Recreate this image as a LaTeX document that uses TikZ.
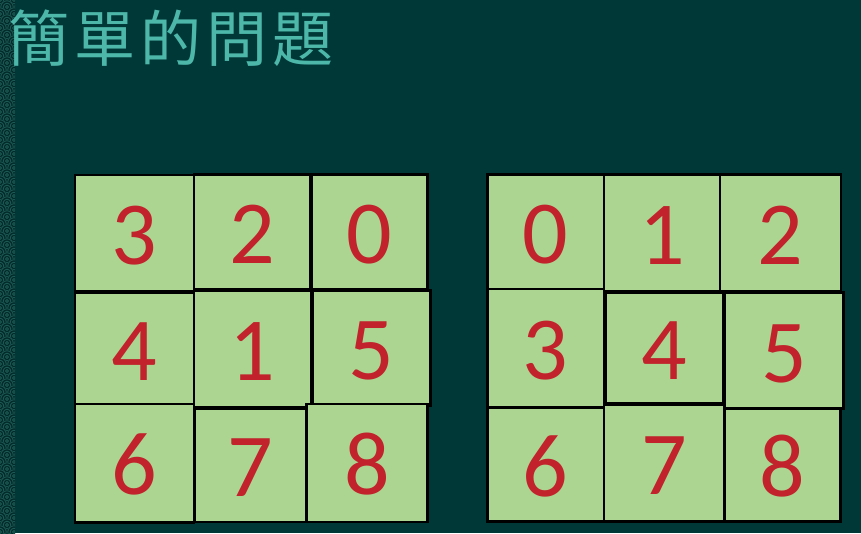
\documentclass[tikz,border=0pt]{standalone}
\usepackage{fontspec}
\usepackage{tikz}
\newfontfamily\titlefont{Noto Sans CJK TC}
\newfontfamily\numfont{Carlito}
\definecolor{bgteal}{HTML}{003838}
\definecolor{stripdark}{HTML}{022A2A}
\definecolor{stripline}{HTML}{1C5A55}
\definecolor{titleteal}{HTML}{4DB8AA}
\definecolor{tilegreen}{HTML}{ACD592}
\definecolor{numred}{HTML}{C1222B}
\tikzset{
	tile/.style 2 args={draw=black, line width=2.6pt, fill=tilegreen,
		text=numred, font={\numfont\fontsize{90}{90}\selectfont},
		text height=63pt, text depth=0pt,
		inner sep=0pt, minimum width=#1pt, minimum height=#2pt},
	titletext/.style={text=titleteal, inner sep=0pt,
		font={\titlefont\fontsize{61}{61}\selectfont}},
	scallop/.style={draw=stripline, line width=0.9pt}
}

\begin{document}
\begin{tikzpicture}[x=1pt, y=-1pt]
		% slide background
		\fill[bgteal] (0,0) rectangle (861,533);
		\useasboundingbox (0,0) rectangle (861,533);
		\fill[stripdark] (0,0) rectangle (15,533);
		\begin{scope}
			\clip (0,0) rectangle (15,533);
			\foreach \j [evaluate=\j as \off using {mod(\j,2)*7}] in {0,...,78} {
				\foreach \i in {0,1,2} {
					\fill[stripdark] (\i*14-\off,\j*7) circle[radius=7];
					\draw[scallop] (\i*14-\off,\j*7) circle[radius=6.2];
					\draw[scallop] (\i*14-\off,\j*7) circle[radius=3.8];
					\draw[scallop] (\i*14-\off,\j*7) circle[radius=1.4];
				}
			}
		\end{scope}

		% title
		\node[titletext, anchor=west] (title) at (8,38)
			{簡\hspace{5pt}單\hspace{5pt}的\hspace{5pt}問\hspace{5pt}題};

		% start state
		\node[tile={119}{116.7}]   (a3) at (134.5,233.3) {3};
		\node[tile={116.7}{114.3}] (a2) at (252.3,231.8) {2};
		\node[tile={116}{114.3}]   (a0) at (369.7,231.8) {0};
		\node[tile={119}{111.6}]   (a4) at (134.5,348.5) {4};
		\node[tile={117.7}{117}]   (a1) at (252.8,349.2) {1};
		\node[tile={117.7}{115.3}] (a5) at (371.8,348.3) {5};
		\node[tile={119}{118.3}]   (a6) at (134.5,463.2) {6};
		\node[tile={111.7}{113.7}] (a7) at (250.8,465.2) {7};
		\node[tile={121}{118}]     (a8) at (367.2,463) {8};

		% goal state
		\node[tile={116.7}{114.3}] (b0) at (545.7,231.8) {0};
		\node[tile={116}{117}]     (b1) at (662,233.2) {1};
		\node[tile={121}{117}]     (b2) at (780.5,233.2) {2};
		\node[tile={116.7}{118.7}] (b3) at (545.7,348.3) {3};
		\node[tile={117.6}{110.6}] (b4) at (664.5,348) {4};
		\node[tile={118.3}{115.6}] (b5) at (784.2,350.5) {5};
		\node[tile={116.7}{114}]   (b6) at (545.7,464.7) {6};
		\node[tile={120.3}{117.4}] (b7) at (664.2,463) {7};
		\node[tile={116.4}{113.4}] (b8) at (782.5,465) {8};
	\end{tikzpicture}
\end{document}
